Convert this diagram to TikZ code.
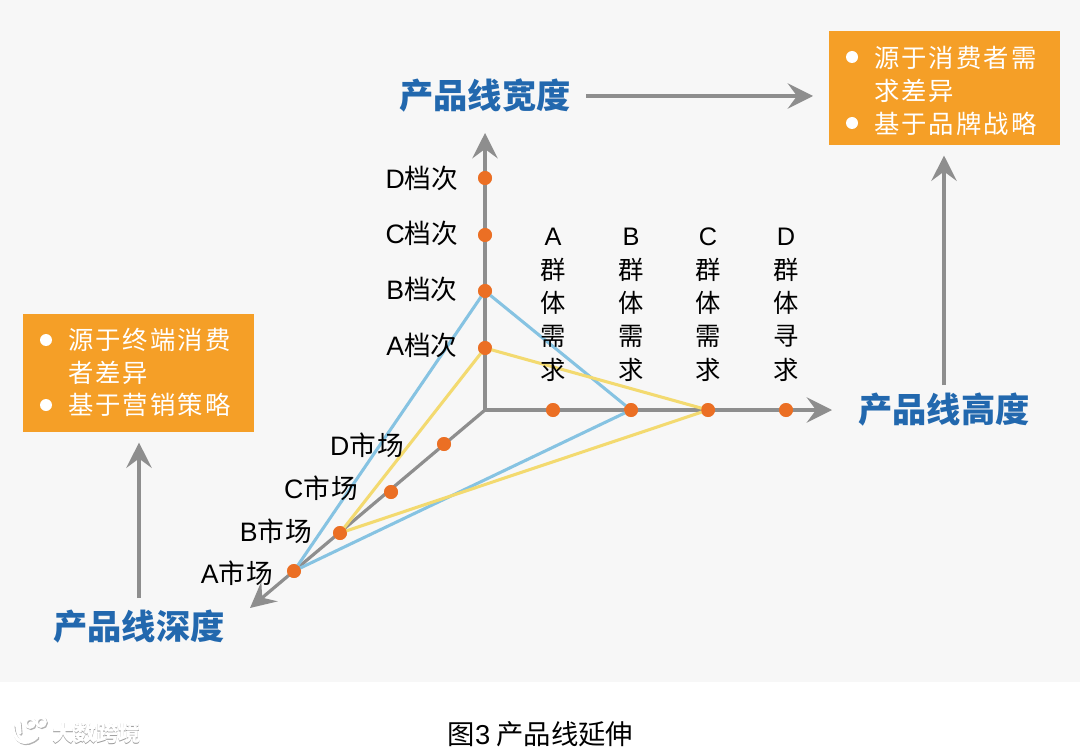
\documentclass[tikz,border=0pt]{standalone}
\usepackage{fontspec}
\setmainfont{Liberation Sans}
\newfontfamily\cjk{Noto Sans CJK SC}
\usetikzlibrary{arrows.meta,calc}
\definecolor{bgpanel}{HTML}{F7F7F7}
\definecolor{axisgray}{HTML}{8E8E8E}
\definecolor{dotorange}{HTML}{EB6F24}
\definecolor{boxorange}{HTML}{F59F27}
\definecolor{titleblue}{HTML}{2268AE}
\definecolor{lineblue}{HTML}{86C3E2}
\definecolor{lineyellow}{HTML}{F3DA70}
\tikzset{
  x=0.75pt,y=-0.75pt,
  axisline/.style={draw=axisgray,line width=2.4pt,-{Stealth[length=19pt,width=19pt,inset=7pt]}},
  flowline/.style={draw=axisgray,line width=2.4pt,-{Stealth[length=19pt,width=19pt,inset=7pt]}},
  dotnode/.style={circle,fill=dotorange,inner sep=0pt,minimum size=10.5pt},
  anchorpt/.style={inner sep=0pt,minimum size=0pt},
  titletext/.style={inner sep=0pt,text=titleblue,font=\cjk\bfseries\fontsize{25.7}{30}\selectfont},
  labeltext/.style={inner sep=0pt,text=black,font=\cjk\fontsize{20}{24}\selectfont},
  vlabel/.style={inner sep=0pt,text=black,align=center,font=\cjk\fontsize{19}{25}\selectfont},
  boxshape/.style={fill=boxorange,draw=none,inner sep=0pt},
  boxtext/.style={inner sep=0pt,text=white,anchor=west,font=\cjk\fontsize{19}{22}\selectfont},
  bulletdot/.style={circle,fill=white,inner sep=0pt,minimum size=9pt},
  tri/.style={line width=2.3pt,line join=round},
  wmicon/.style={line width=2.4pt,line cap=round}
}
\newcommand{\lat}[1]{{\fontspec{Liberation Sans}#1}}
\newcommand{\wmark}[1]{%
  \draw[wmicon,#1] (13,726) .. controls (13,741) and (25,748) .. (37,737);
  \draw[wmicon,#1] (19,722) -- (20,733);
  \draw[line width=2pt,#1] (30,723) circle (4.5) (41,722) circle (4.5);
}
\begin{document}
\begin{tikzpicture}
\useasboundingbox (0,0) rectangle (1080,752);
\fill[white] (0,0) rectangle (1080,752);
\fill[bgpanel] (0,0) rectangle (1080,682);

\node[anchorpt] (o) at (485,410) {};
\coordinate (upend) at (485,133);
\coordinate (rightend) at (832,410);
\coordinate (dlend) at (250,608);

\draw[axisline] (o.center) -- (upend);
\draw[axisline] (o.center) -- (rightend);
\draw[axisline] (o.center) -- (dlend);

\path
 (485,178) node[dotnode] (gd) {}
 (485,235) node[dotnode] (gc) {}
 (485,291) node[dotnode] (gb) {}
 (485,348) node[dotnode] (ga) {}
 (553,410) node[dotnode] (qa) {}
 (631,410) node[dotnode] (qb) {}
 (708,410) node[dotnode] (qc) {}
 (786,410) node[dotnode] (qd) {}
 (444,444) node[dotnode] (md) {}
 (391,492) node[dotnode] (mc) {}
 (340,533) node[dotnode] (mb) {}
 (294,571) node[dotnode] (ma) {};

\draw[tri,lineblue] (gb.center) -- (qb.center) -- (ma.center) -- cycle;
\draw[tri,lineyellow] (ga.center) -- (qc.center) -- (mb.center) -- cycle;
\foreach \n in {gd,gc,gb,ga,qa,qb,qc,qd,md,mc,mb,ma}
  \fill[dotorange] (\n) circle (6.8);

\node[labeltext] (lgd) at (422,178) {\lat{D}档次};
\node[labeltext] (lgc) at (422,233) {\lat{C}档次};
\node[labeltext] (lgb) at (422,289) {\lat{B}档次};
\node[labeltext] (lga) at (422,345) {\lat{A}档次};
\node[labeltext] (lmd) at (367,445) {\addfontfeature{LetterSpace=4}\lat{D}市场};
\node[labeltext] (lmc) at (321,488) {\addfontfeature{LetterSpace=4}\lat{C}市场};
\node[labeltext] (lmb) at (276,531) {\addfontfeature{LetterSpace=4}\lat{B}市场};
\node[labeltext] (lma) at (237,573) {\addfontfeature{LetterSpace=4}\lat{A}市场};
\node[vlabel,anchor=north] (la) at (553,228) {\lat{A}\\群\\体\\需\\求};
\node[vlabel,anchor=north] (lb) at (631,228) {\lat{B}\\群\\体\\需\\求};
\node[vlabel,anchor=north] (lc) at (708,228) {\lat{C}\\群\\体\\需\\求};
\node[vlabel,anchor=north] (ld) at (786,228) {\lat{D}\\群\\体\\寻\\求};

\node[titletext] (twidth) at (485,96) {产品线宽度};
\node[titletext] (theight) at (944,410) {产品线高度};
\node[titletext] (tdepth) at (139,627) {产品线深度};

\node[boxshape,anchor=north west,minimum width=173.25pt,minimum height=85.5pt] (boxr) at (829,31) {};
\node[boxshape,anchor=north west,minimum width=173.25pt,minimum height=88.5pt] (boxl) at (23,314) {};

\node[bulletdot] (br1) at (852,57) {};
\node[boxtext] (trr1) at (874,58) {\addfontfeature{LetterSpace=8}源于消费者需};
\node[boxtext] (trr2) at (874,91) {\addfontfeature{LetterSpace=8}求差异};
\node[bulletdot] (br2) at (852,123) {};
\node[boxtext] (trr3) at (874,124) {\addfontfeature{LetterSpace=8}基于品牌战略};

\node[bulletdot] (bl1) at (46,340) {};
\node[boxtext] (tll1) at (68,340) {\addfontfeature{LetterSpace=8}源于终端消费};
\node[boxtext] (tll2) at (68,373) {\addfontfeature{LetterSpace=8}者差异};
\node[bulletdot] (bl2) at (46,405) {};
\node[boxtext] (tll3) at (68,405) {\addfontfeature{LetterSpace=8}基于营销策略};

\coordinate (w1) at ($(twidth.center)+(101,0)$);
\coordinate (w2) at ($(boxr.west |- twidth.center)+(-16,0)$);
\draw[flowline] (w1) -- (w2);
\coordinate (h1) at ($(theight.center)+(0,-25)$);
\coordinate (h2) at ($(boxr.south -| theight.center)+(0,10)$);
\draw[flowline] (h1) -- (h2);
\coordinate (d1) at ($(tdepth.center)+(0,-29)$);
\coordinate (d2) at ($(boxl.south -| tdepth.center)+(0,10)$);
\draw[flowline] (d1) -- (d2);

\node[inner sep=0pt,font=\cjk\fontsize{20.5}{24}\selectfont,text=black] (cap) at (540.5,734) {图\lat{3} 产品线延伸};

% watermark
\begin{scope}[shift={(1,1.2)}]\wmark{black!30}\end{scope}
\wmark{white}
\node[inner sep=0pt,text=black!40,font=\cjk\bfseries\fontsize{16.5}{18}\selectfont] (wms) at (96.8,733.8) {大数跨境};
\node[inner sep=0pt,text=white,font=\cjk\bfseries\fontsize{16.5}{18}\selectfont] (wm) at (96,733) {大数跨境};
\end{tikzpicture}
\end{document}
